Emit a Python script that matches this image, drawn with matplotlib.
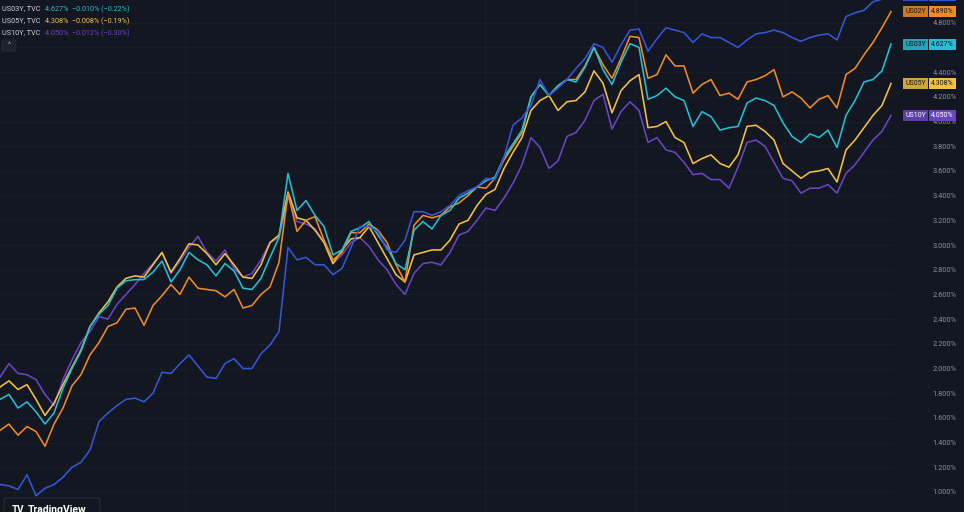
import numpy as np
import matplotlib
matplotlib.use("Agg")
import matplotlib.pyplot as plt
from matplotlib import transforms
from matplotlib.patches import FancyBboxPatch

plt.rcParams['font.family'] = ['Roboto', 'DejaVu Sans']

# yields in %, one point per period (same time axis for all series)
us01y = [1.06, 1.05, 1.02, 1.14, 0.97, 1.03, 1.06, 1.12, 1.20, 1.24,
         1.34, 1.57, 1.64, 1.70, 1.75, 1.76, 1.73, 1.80, 1.97, 1.96,
         2.04, 2.11, 2.02, 1.93, 1.92, 2.04, 2.08, 2.00, 2.00, 2.12,
         2.19, 2.30, 2.98, 2.88, 2.90, 2.84, 2.84, 2.76, 2.81, 2.98,
         3.15, 3.15, 3.11, 2.96, 2.94, 3.04, 3.27, 3.27, 3.24, 3.27,
         3.32, 3.40, 3.44, 3.47, 3.54, 3.53, 3.71, 3.97, 4.03, 4.13,
         4.34, 4.21, 4.27, 4.34, 4.43, 4.51, 4.63, 4.60, 4.48, 4.62,
         4.74, 4.75, 4.57, 4.67, 4.76, 4.74, 4.72, 4.64, 4.71, 4.68,
         4.68, 4.64, 4.60, 4.66, 4.71, 4.72, 4.74, 4.72, 4.68, 4.65,
         4.68, 4.70, 4.71, 4.66, 4.85, 4.88, 4.90, 4.97, 4.99, 5.02]

us02y = [1.50, 1.55, 1.46, 1.53, 1.49, 1.37, 1.55, 1.68, 1.86, 1.95,
         2.11, 2.21, 2.34, 2.37, 2.48, 2.49, 2.35, 2.51, 2.59, 2.68,
         2.60, 2.74, 2.65, 2.64, 2.63, 2.58, 2.64, 2.49, 2.51, 2.60,
         2.66, 2.86, 3.42, 3.11, 3.20, 3.23, 3.04, 2.88, 2.94, 3.10,
         3.10, 3.17, 3.12, 3.02, 2.84, 2.70, 3.16, 3.24, 3.22, 3.24,
         3.31, 3.34, 3.40, 3.47, 3.46, 3.54, 3.69, 3.80, 3.91, 4.20,
         4.30, 4.21, 4.29, 4.34, 4.34, 4.45, 4.60, 4.46, 4.35, 4.51,
         4.69, 4.68, 4.35, 4.38, 4.54, 4.45, 4.45, 4.23, 4.30, 4.34,
         4.21, 4.23, 4.18, 4.32, 4.34, 4.37, 4.42, 4.20, 4.24, 4.19,
         4.11, 4.18, 4.21, 4.11, 4.38, 4.43, 4.54, 4.64, 4.76, 4.89]

us03y = [1.75, 1.79, 1.68, 1.73, 1.65, 1.55, 1.64, 1.84, 2.00, 2.14,
         2.34, 2.44, 2.51, 2.65, 2.71, 2.72, 2.72, 2.78, 2.87, 2.70,
         2.80, 2.94, 2.88, 2.84, 2.75, 2.85, 2.79, 2.65, 2.64, 2.73,
         2.90, 3.06, 3.58, 3.28, 3.36, 3.24, 3.15, 2.92, 2.96, 3.11,
         3.14, 3.19, 3.08, 2.98, 2.85, 2.80, 3.12, 3.19, 3.13, 3.24,
         3.28, 3.38, 3.42, 3.47, 3.52, 3.55, 3.71, 3.82, 3.93, 4.20,
         4.30, 4.21, 4.29, 4.34, 4.32, 4.44, 4.60, 4.42, 4.30, 4.48,
         4.63, 4.60, 4.18, 4.21, 4.27, 4.20, 4.17, 3.96, 4.08, 4.04,
         3.93, 3.95, 3.96, 4.15, 4.19, 4.17, 4.13, 3.99, 3.88, 3.83,
         3.90, 3.87, 3.93, 3.79, 4.05, 4.17, 4.32, 4.34, 4.41, 4.627]

us05y = [1.85, 1.90, 1.83, 1.87, 1.75, 1.62, 1.72, 1.87, 2.01, 2.15,
         2.34, 2.45, 2.54, 2.66, 2.73, 2.75, 2.74, 2.84, 2.94, 2.78,
         2.89, 3.01, 3.00, 2.93, 2.84, 2.93, 2.84, 2.74, 2.73, 2.84,
         3.02, 3.08, 3.43, 3.22, 3.20, 3.12, 3.02, 2.85, 2.96, 3.05,
         3.06, 3.15, 3.02, 2.89, 2.76, 2.70, 2.92, 2.94, 2.96, 2.96,
         3.04, 3.17, 3.20, 3.32, 3.41, 3.45, 3.62, 3.75, 3.87, 4.09,
         4.17, 4.21, 4.09, 4.16, 4.17, 4.24, 4.41, 4.31, 4.07, 4.25,
         4.33, 4.38, 3.95, 3.96, 4.00, 3.87, 3.83, 3.66, 3.70, 3.73,
         3.66, 3.63, 3.73, 3.96, 3.97, 3.92, 3.85, 3.66, 3.60, 3.54,
         3.59, 3.60, 3.62, 3.51, 3.77, 3.85, 3.95, 4.05, 4.13, 4.308]

us10y = [1.93, 2.04, 1.96, 1.95, 1.91, 1.79, 1.70, 1.91, 2.07, 2.21,
         2.30, 2.42, 2.40, 2.52, 2.60, 2.68, 2.77, 2.85, 2.94, 2.77,
         2.87, 2.98, 3.07, 2.94, 2.87, 2.96, 2.81, 2.74, 2.77, 2.88,
         3.02, 3.06, 3.39, 3.19, 3.17, 3.13, 3.02, 2.85, 2.92, 3.02,
         3.06, 2.99, 2.88, 2.80, 2.68, 2.60, 2.77, 2.85, 2.86, 2.84,
         2.94, 3.08, 3.11, 3.20, 3.30, 3.28, 3.38, 3.50, 3.65, 3.87,
         3.79, 3.62, 3.68, 3.88, 3.91, 4.01, 4.17, 4.22, 3.94, 4.08,
         4.16, 4.09, 3.83, 3.87, 3.77, 3.75, 3.67, 3.57, 3.58, 3.53,
         3.53, 3.46, 3.63, 3.83, 3.85, 3.80, 3.67, 3.54, 3.52, 3.42,
         3.46, 3.46, 3.49, 3.42, 3.58, 3.65, 3.75, 3.85, 3.92, 4.05]

names = ["US01Y", "US02Y", "US03Y", "US05Y", "US10Y"]
last_text = ["5.020%", "4.890%", "4.627%", "4.308%", "4.050%"]
changes = {"US03Y": "\u22120.010% (\u22120.22%)",
           "US05Y": "\u22120.008% (\u22120.19%)",
           "US10Y": "\u22120.012% (\u22120.30%)"}
price_ticks = [1.0, 1.2, 1.4, 1.6, 1.8, 2.0, 2.2, 2.4, 2.6, 2.8,
               3.0, 3.2, 3.4, 3.6, 3.8, 4.0, 4.2, 4.4, 4.6, 4.8]

colors = {"US01Y": "#3556d8", "US02Y": "#f08a24", "US03Y": "#25bfd3",
          "US05Y": "#f4c13f", "US10Y": "#6a45c2"}
text_on = {"US01Y": "#ffffff", "US02Y": "#131722", "US03Y": "#131722",
           "US05Y": "#131722", "US10Y": "#ffffff"}
series = {"US01Y": us01y, "US02Y": us02y, "US03Y": us03y,
          "US05Y": us05y, "US10Y": us10y}

BG = "#131722"
W, H = 964, 512
fig = plt.figure(figsize=(W / 100, H / 100), dpi=100, facecolor=BG)
ax = fig.add_axes([0, 0, 895 / W, 1])
ax.set_facecolor(BG)

t = np.arange(len(us03y))
for nm in ["US10Y", "US05Y", "US02Y", "US03Y", "US01Y"]:
    ax.plot(t, series[nm], color=colors[nm], lw=1.15, solid_joinstyle="round", zorder=3)

ax.set_xlim(0, 895 / 9)
ax.set_ylim(0.838, 4.984)
for s in ax.spines.values():
    s.set_visible(False)

ax.set_xticks([20.6, 37.2, 53.9, 70.6, 87.2])
ax.set_xticklabels([])
ax.tick_params(axis="x", length=0)
ax.set_yticks(price_ticks)
ax.set_yticklabels(["" if abs(v - 4.6) < 1e-6 else f"{v:.3f}%" for v in price_ticks])
ax.yaxis.set_ticks_position("right")
ax.tick_params(axis="y", length=0, pad=27, labelsize=5.3, labelcolor="#8b8f9a")
ax.grid(True, color="#1b1f2b", lw=0.6)
ax.set_axisbelow(True)

# price-scale labels
tr = transforms.blended_transform_factory(fig.transFigure, ax.transData)
label_vals = [us01y[-1], us02y[-1], us03y[-1], us05y[-1], us10y[-1]]
for nm, val, txt in zip(names, label_vals, last_text):
    ax.text(905 / W, val, nm, transform=tr, clip_on=False, ha="left", va="center",
            fontsize=5.0, color=text_on[nm], zorder=6,
            bbox=dict(boxstyle="square,pad=0.3", fc=colors[nm], ec="none", alpha=0.85))
    ax.text(931 / W, val, txt, transform=tr, clip_on=False, ha="left", va="center",
            fontsize=5.0, color=text_on[nm], zorder=6,
            bbox=dict(boxstyle="square,pad=0.3", fc=colors[nm], ec="none"))

# legend (top-left)
for k, nm in enumerate(["US03Y", "US05Y", "US10Y"]):
    y = 1 - (9 + 12 * k) / H
    fig.text(2 / W, y, f"{nm}, TVC", ha="left", va="center", fontsize=5.2, color="#d1d4dc")
    fig.text(45 / W, y, f"{series[nm][-1]:.3f}%  {changes[nm]}", ha="left", va="center",
             fontsize=5.2, color=colors[nm])

btn = FancyBboxPatch((4 / W, 1 - 50 / H), 10 / W, 9 / H, boxstyle="round,pad=0.002",
                     transform=fig.transFigure, fc="#1e222d", ec="#2a2e39", lw=0.6)
fig.patches.append(btn)
fig.text(9 / W, 1 - 45.5 / H, "^", ha="center", va="center", fontsize=5, color="#b2b5be")

# TradingView watermark, cut by the bottom edge
logo = FancyBboxPatch((8 / W, -12 / H), 88 / W, 12 / H + 12 / H, boxstyle="round,pad=0.004",
                      transform=fig.transFigure, fc=BG, ec="#2a2e39", lw=0.8)
fig.patches.append(logo)
fig.text(12 / W, 2 / H, "TV", ha="left", va="center", fontsize=7, color="#ffffff",
         fontweight="bold")
fig.text(28 / W, 2 / H, "TradingView", ha="left", va="center", fontsize=7.5,
         color="#ffffff", fontweight="bold")

fig.savefig("out.png", dpi=100, facecolor=BG)
